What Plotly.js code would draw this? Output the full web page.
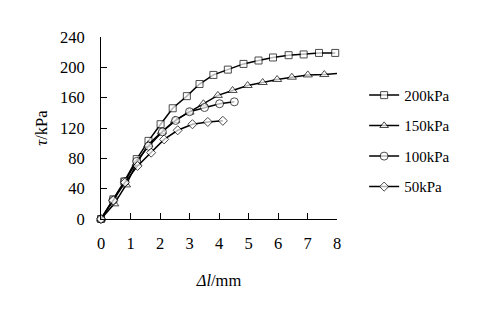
<!DOCTYPE html>
<html>
<head>
<meta charset="utf-8">
<script src="https://cdn.plot.ly/plotly-3.0.1.min.js"></script>
<style>
  body { margin: 0; background: #fff; }
  #graph-container { width: 480px; height: 321px; }
</style>
</head>
<body>
<div id="graph-container"></div>
<script>
// Shear displacement (mm) and shear stress (kPa) for each normal stress
let x200 = [0, 0.42, 0.79, 1.21, 1.61, 2.02, 2.43, 2.91, 3.34, 3.81, 4.30, 4.83, 5.34, 5.83, 6.36, 6.87, 7.39, 7.94];
let y200 = [0, 26, 49.5, 79, 103, 125, 146, 162, 178, 190, 197, 204.5, 209, 213, 216, 217, 219, 219];

let x150 = [0, 0.45, 0.85, 1.21, 1.6, 2.06, 2.51, 3.0, 3.47, 3.96, 4.46, 4.97, 5.48, 5.97, 6.47, 7.01, 7.57, 8.0];
let y150 = [0, 20, 45, 73.5, 98, 115, 130, 141, 152, 163, 169.5, 176, 180, 184, 187, 190, 190.5, 192];

let x100 = [0, 0.40, 0.81, 1.21, 1.61, 2.08, 2.53, 3.0, 3.51, 4.02, 4.52];
let y100 = [0, 24.5, 49.5, 76, 96, 115, 130, 141.5, 147, 152, 154.5];

let x50 = [0, 0.42, 0.81, 1.24, 1.70, 2.14, 2.6, 3.1, 3.62, 4.13];
let y50 = [0, 24.5, 48, 70, 87.5, 105, 117, 125, 128, 129.5];

let seriesNames = ['200kPa', '150kPa', '100kPa', '50kPa'];
let xTicks = [0, 1, 2, 3, 4, 5, 6, 7, 8];
let yTicks = [0, 40, 80, 120, 160, 200, 240];

function makeTrace(xs, ys, name, symbol, size) {
    // last point of the 150kPa curve has no marker in the figure
    var sizes = xs.map(() => size);
    if (name === '150kPa') sizes[sizes.length - 1] = 0;
    return {
        x: xs,
        y: ys,
        name: name,
        legendgroup: name,
        mode: 'lines+markers',
        type: 'scatter',
        cliponaxis: false,
        line: { color: '#000', width: 1.5 },
        marker: {
            symbol: symbol,
            size: sizes,
            color: '#fff',
            line: { color: '#000', width: 1 }
        }
    };
}

var data = [
    makeTrace(x200, y200, seriesNames[0], 'square', 7),
    makeTrace(x150, y150, seriesNames[1], 'triangle-up', 8),
    makeTrace(x100, y100, seriesNames[2], 'circle', 8),
    makeTrace(x50, y50, seriesNames[3], 'diamond', 7)
];

var serif = 'Liberation Serif';
var tickFont = { family: serif, size: 16.5, color: '#000' };

var layout = {
    width: 480,
    height: 321,
    margin: { l: 101, r: 143, t: 37, b: 102 },
    paper_bgcolor: '#fff',
    plot_bgcolor: '#fff',
    font: tickFont,
    showlegend: true,
    legend: {
        x: 1.115,
        y: 0.77,
        xanchor: 'left',
        yanchor: 'top',
        traceorder: 'grouped',
        tracegroupgap: 8,
        itemwidth: 30,
        font: { family: serif, size: 15, color: '#000' },
        bgcolor: 'rgba(0,0,0,0)'
    },
    xaxis: {
        range: [0, 8],
        tickvals: xTicks,
        ticks: 'inside',
        ticklen: 6,
        tickcolor: '#000',
        ticklabelstandoff: 9,
        showline: true,
        linecolor: '#000',
        linewidth: 1,
        showgrid: false,
        zeroline: false,
        tickfont: tickFont,
        title: { text: '<i>Δl</i>/mm', font: tickFont, standoff: 22 }
    },
    yaxis: {
        range: [0, 240],
        tickvals: yTicks,
        ticks: 'inside',
        ticklen: 6,
        tickcolor: '#000',
        ticklabelstandoff: 12,
        showline: true,
        linecolor: '#000',
        linewidth: 1,
        showgrid: false,
        zeroline: false,
        tickfont: tickFont,
        title: { text: '<i>τ</i>/kPa', font: tickFont, standoff: 8 }
    }
};

Plotly.newPlot('graph-container', data, layout, { displayModeBar: false, staticPlot: true });
</script>
</body>
</html>
